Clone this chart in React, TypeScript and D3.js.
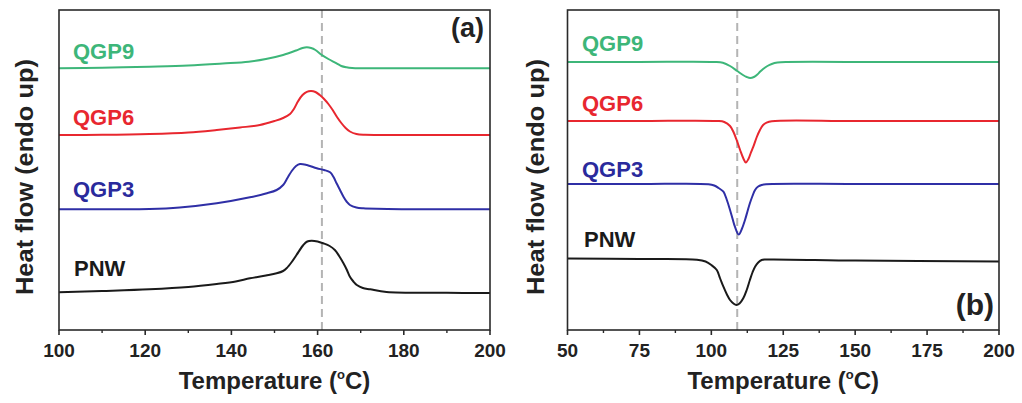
import React from "react";
import * as d3 from "d3";

// ---------- Data (heat flow in arbitrary offset units) ----------
// Panel (a): melting (heating) curves, temperature in °C
const meltPNW: [number, number][] = [
  [100, 3.77], [110, 3.9], [121, 4.07], [130, 4.3], [136.6, 4.6], [141, 4.85], [144.3, 5.17],
  [148, 5.45], [150.5, 5.67], [152, 5.9], [152.8, 6.17], [154, 6.8], [155.1, 7.5], [156.7, 8.5],
  [157.6, 8.85], [158.6, 8.93], [160, 8.85], [161.3, 8.67], [162.8, 8.4], [164, 8.0], [165, 7.4],
  [166, 6.67], [166.8, 6.0], [167.5, 5.33], [168.3, 4.85], [169.1, 4.5], [170.5, 4.2], [172.2, 4.07],
  [176, 3.8], [190, 3.72], [200, 3.7],
];
const meltQGP3: [number, number][] = [
  [100, 12.07], [110, 12.08], [121, 12.1], [128, 12.25], [136.6, 12.67], [144.3, 13.27], [148, 13.65],
  [150.5, 14.0], [152, 14.5], [153, 15.2], [154, 15.9], [155, 16.4], [155.9, 16.6], [157.5, 16.5],
  [159.8, 16.17], [161.5, 16.0], [162.9, 15.77], [163.7, 15.3], [164.4, 14.67], [165.2, 14.0],
  [166, 13.33], [166.8, 12.8], [167.5, 12.5], [169, 12.25], [170.6, 12.17], [180, 12.08], [200, 12.07],
];
const meltQGP6: [number, number][] = [
  [100, 19.5], [110, 19.52], [121, 19.6], [130, 19.75], [136.6, 20.0], [142, 20.25], [146.6, 20.5],
  [150, 20.9], [152, 21.2], [153.6, 21.6], [154.5, 22.1], [155.5, 22.9], [156.5, 23.5], [157.5, 23.82],
  [158.5, 23.9], [159.5, 23.8], [160.5, 23.5], [161.5, 23.1], [162.5, 22.6], [163.5, 22.0],
  [164.5, 21.3], [165.5, 20.7], [166.5, 20.2], [167.5, 19.85], [169, 19.6], [171, 19.52], [185, 19.5],
  [200, 19.5],
];
const meltQGP9: [number, number][] = [
  [100, 26.17], [110, 26.22], [121, 26.33], [130, 26.45], [138, 26.65], [144, 26.83], [148, 27.1],
  [152, 27.5], [155, 27.95], [156.5, 28.2], [157.5, 28.27], [158.5, 28.2], [159.5, 28.0], [161, 27.5],
  [162.5, 27.1], [164.4, 26.67], [165.5, 26.4], [166.7, 26.27], [168, 26.2], [170, 26.17],
  [185, 26.17], [200, 26.17],
];

// Panel (b): crystallization (cooling) curves
const crysPNW: [number, number][] = [
  [50, 7.15], [75, 7.1], [95, 7.03], [98, 6.85], [100, 6.5], [101.9, 6.0], [103, 5.2], [104.2, 4.33],
  [105.5, 3.5], [106.5, 3.0], [107.7, 2.65], [108.7, 2.5], [109.8, 2.65], [111.1, 3.17], [112.3, 4.0],
  [113.4, 5.0], [114.3, 5.75], [115.2, 6.33], [116.3, 6.75], [117.5, 7.0], [119, 7.05], [150, 6.95],
  [200, 6.85],
];
const crysQGP3: [number, number][] = [
  [50, 14.6], [75, 14.6], [99, 14.58], [101, 14.45], [102.5, 14.2], [104.2, 13.83], [105.4, 13.0],
  [106.5, 12.0], [107.4, 11.1], [108.2, 10.33], [109.5, 9.55], [110.6, 10.1], [111.7, 11.0],
  [112.6, 11.9], [113.4, 12.67], [114.3, 13.4], [115.2, 14.0], [116.3, 14.35], [117.5, 14.5],
  [119, 14.58], [150, 14.6], [200, 14.6],
];
const crysQGP6: [number, number][] = [
  [50, 20.9], [75, 20.9], [102, 20.9], [104.5, 20.8], [106.5, 20.4], [107.7, 19.8], [108.8, 19.0],
  [110, 18.0], [111.1, 17.17], [112, 16.75], [112.9, 17.1], [113.7, 17.7], [114.6, 18.33],
  [115.8, 19.3], [116.9, 20.0], [118, 20.5], [119.2, 20.73], [121, 20.88], [150, 20.9], [200, 20.9],
];
const crysQGP9: [number, number][] = [
  [50, 26.8], [75, 26.8], [101, 26.8], [104, 26.72], [106.5, 26.4], [109, 25.9], [111, 25.5],
  [112.3, 25.3], [113.5, 25.2], [114.8, 25.3], [116, 25.55], [117, 25.85], [118, 26.1], [119.5, 26.4],
  [121, 26.6], [123, 26.74], [126, 26.8], [160, 26.8], [200, 26.8],
];

const seriesNames = ["QGP9", "QGP6", "QGP3", "PNW"];
const seriesColors = ["#3db679", "#e8272f", "#2f2fa6", "#1a1a1a"];
const labelColors = ["#3db679", "#e8272f", "#2a2a9c", "#1a1a1a"];

const ticksA = [100, 120, 140, 160, 180, 200];
const minorA = [110, 130, 150, 170, 190];
const ticksB = [50, 75, 100, 125, 150, 175, 200];
const minorB = [62.5, 87.5, 112.5, 137.5, 162.5, 187.5];

const refLineA = 161;
const refLineB = 109;

const FONT = "'Liberation Sans', Arial, sans-serif";

type PanelProps = {
  x0: number;
  x1: number;
  domain: [number, number];
  ticks: number[];
  minor: number[];
  curves: [number, number][][];
  refLine: number;
  labelPos: { x: number; y: number }[];
  tag: string;
  tagPos: { x: number; y: number; size: number };
  yTitleX: number;
};

const TOP = 10;
const BOTTOM = 330;

function Panel(p: PanelProps) {
  const x = d3.scaleLinear().domain(p.domain).range([p.x0, p.x1]);
  const y = d3.scaleLinear().domain([0, 32]).range([BOTTOM, TOP]);
  const line = d3
    .line<[number, number]>()
    .x((d) => x(d[0]))
    .y((d) => y(d[1]))
    .curve(d3.curveCatmullRom.alpha(0.5));
  const cx = (p.x0 + p.x1) / 2;
  return (
    <g>
      <line
        x1={x(p.refLine)}
        x2={x(p.refLine)}
        y1={TOP}
        y2={BOTTOM}
        stroke="#b4b4b4"
        strokeWidth={2}
        strokeDasharray="8,5"
      />
      {p.curves.map((c, i) => (
        <path key={i} d={line(c) || ""} fill="none" stroke={seriesColors[i]} strokeWidth={2} />
      ))}
      <rect
        x={p.x0}
        y={TOP}
        width={p.x1 - p.x0}
        height={BOTTOM - TOP}
        fill="none"
        stroke="#2a2a2a"
        strokeWidth={1.6}
      />
      {p.ticks.map((t) => (
        <g key={"t" + t}>
          <line x1={x(t)} x2={x(t)} y1={BOTTOM} y2={BOTTOM + 5} stroke="#2a2a2a" strokeWidth={1.6} />
          <text
            x={x(t)}
            y={357}
            textAnchor="middle"
            fontFamily={FONT}
            fontWeight="bold"
            fontSize={19}
            fill="#222"
          >
            {t}
          </text>
        </g>
      ))}
      {p.minor.map((t) => (
        <line key={"m" + t} x1={x(t)} x2={x(t)} y1={BOTTOM} y2={BOTTOM + 3} stroke="#2a2a2a" strokeWidth={1.4} />
      ))}
      {seriesNames.map((n, i) => (
        <text
          key={n}
          x={p.labelPos[i].x}
          y={p.labelPos[i].y}
          fontFamily={FONT}
          fontWeight="bold"
          fontSize={22}
          fill={labelColors[i]}
        >
          {n}
        </text>
      ))}
      <text
        x={p.tagPos.x}
        y={p.tagPos.y}
        textAnchor="end"
        fontFamily={FONT}
        fontWeight="bold"
        fontSize={p.tagPos.size}
        fill="#222"
      >
        {p.tag}
      </text>
      <text
        x={cx}
        y={389}
        textAnchor="middle"
        fontFamily={FONT}
        fontWeight="bold"
        fontSize={24}
        fill="#222"
      >
        Temperature (
        <tspan fontSize={13} dy={-10}>o</tspan>
        <tspan dy={10}>C)</tspan>
      </text>
      <text
        transform={`translate(${p.yTitleX},${177}) rotate(-90)`}
        textAnchor="middle"
        fontFamily={FONT}
        fontWeight="bold"
        fontSize={24}
        fill="#222"
        textLength={236}
        lengthAdjust="spacingAndGlyphs"
      >
        Heat flow (endo up)
      </text>
    </g>
  );
}

export default function App() {
  return (
    <svg width={1022} height={403} style={{ display: "block", position: "absolute", left: 0, top: 0 }}>
      <rect width={1022} height={403} fill="#fff" />
      <Panel
        x0={59}
        x1={490}
        domain={[100, 200]}
        ticks={ticksA}
        minor={minorA}
        curves={[meltQGP9, meltQGP6, meltQGP3, meltPNW]}
        refLine={refLineA}
        labelPos={[
          { x: 73, y: 59 },
          { x: 73, y: 125 },
          { x: 73, y: 197 },
          { x: 74, y: 276 },
        ]}
        tag="(a)"
        tagPos={{ x: 484, y: 37, size: 27 }}
        yTitleX={33}
      />
      <Panel
        x0={567.5}
        x1={999}
        domain={[50, 200]}
        ticks={ticksB}
        minor={minorB}
        curves={[crysQGP9, crysQGP6, crysQGP3, crysPNW]}
        refLine={refLineB}
        labelPos={[
          { x: 582, y: 51 },
          { x: 582, y: 111 },
          { x: 582, y: 177 },
          { x: 584, y: 247 },
        ]}
        tag="(b)"
        tagPos={{ x: 994, y: 315, size: 30 }}
        yTitleX={544}
      />
    </svg>
  );
}
